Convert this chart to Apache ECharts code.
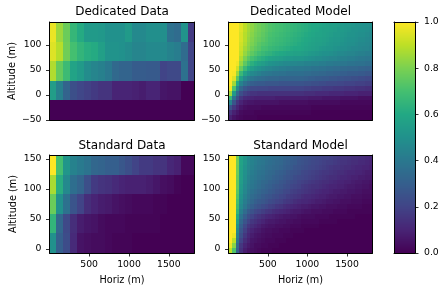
<!DOCTYPE html>
<html><head><meta charset="utf-8"><style>html,body{margin:0;padding:0;background:#fff}#c{width:445px;height:291px}</style>
<script src="https://cdn.jsdelivr.net/npm/echarts@6/dist/echarts.min.js"></script></head><body><div id="c"></div>
<script>
const viridis=['#440154','#482475','#414487','#355f8d','#2a788e','#21918c','#22a884','#44bf70','#7ad151','#bddf26','#fde725'];
const panelTitles=['Dedicated Data','Dedicated Model','Standard Data','Standard Model'];
const horizTicks=[500,1000,1500];
const dedicatedAltTicks=[-50,0,50,100];
const standardAltTicks=[0,50,100,150];
const colorbarTicks=[0,0.2,0.4,0.6,0.8,1];
const horizRange=[3,1822];
const dedicatedRange=[-50,145.6];
const standardRange=[-6.7,156.7];
// rows listed top to bottom
const dedicatedData=[
[.97,.85,.77,.66,.61,.54,.54,.53,.5,.5,.5,.54,.47,.47,.49,.49,.49,.37,.35,.51,.17],
[.95,.89,.78,.7,.65,.62,.61,.56,.51,.51,.5,.48,.45,.45,.47,.47,.47,.44,.42,.35,.2],
[.88,.76,.68,.58,.54,.48,.45,.43,.4,.34,.32,.32,.29,.29,.28,.28,.2,.22,.22,.37,.2],
[.55,.43,.32,.24,.21,.19,.17,.15,.15,.1,.1,.1,.09,.08,.1,.1,.06,.05,.05,0,0],
[0,0,0,0,0,0,0,0,0,0,0,0,0,0,0,0,0,0,0,0,0]];
const standardData=[
[1,.7,.52,.44,.41,.38,.33,.32,.3,.3,.27,.24,.2,.17,.17,.15,.15,.11,.09,.02,.02],
[.87,.62,.47,.36,.32,.24,.17,.15,.14,.12,.1,.09,.09,.09,.08,.06,.04,.03,.01,0,0],
[.77,.5,.37,.26,.2,.13,.1,.08,.07,.05,.04,.03,.02,.02,.02,.01,.01,0,0,0,0],
[.65,.33,.22,.13,.08,.06,.05,.03,.02,.02,.02,.01,.01,.01,.01,.01,0,0,0,0,0],
[.5,.3,.23,.12,.05,.04,.03,.03,.02,.01,.01,.01,0,0,0,0,0,0,0,0,0]];
const dedicatedModel=[
[1,1,1,.95,.9,.86,.83,.8,.78,.76,.74,.72,.71,.7,.69,.68,.67,.66,.65,.64,.63,.62,.61,.6,.6,.59,.58,.57,.56,.56,.55,.54,.53,.53,.52,.51,.51,.5,.5,.49],
[1,1,1,.95,.9,.86,.83,.8,.78,.76,.74,.72,.71,.7,.69,.68,.67,.66,.65,.64,.63,.62,.61,.6,.59,.58,.57,.57,.56,.55,.54,.54,.53,.52,.51,.51,.5,.5,.49,.48],
[1,1,1,.94,.89,.85,.82,.79,.77,.75,.73,.71,.7,.69,.68,.67,.66,.65,.64,.63,.62,.61,.6,.59,.58,.58,.57,.56,.55,.54,.54,.53,.52,.51,.51,.5,.49,.49,.48,.47],
[1,1,1,.94,.89,.84,.81,.78,.76,.74,.72,.7,.69,.68,.67,.66,.65,.64,.63,.62,.61,.6,.59,.58,.57,.57,.56,.55,.54,.53,.53,.52,.51,.5,.5,.49,.48,.48,.47,.46],
[1,1,1,.93,.88,.83,.8,.77,.74,.72,.71,.69,.68,.67,.66,.65,.64,.63,.62,.61,.6,.59,.58,.57,.56,.56,.55,.54,.53,.52,.52,.51,.5,.49,.49,.48,.47,.47,.46,.45],
[1,1,1,.92,.86,.82,.78,.75,.73,.7,.69,.67,.66,.65,.64,.63,.62,.61,.6,.6,.59,.58,.57,.56,.55,.54,.53,.52,.52,.51,.5,.49,.49,.48,.47,.47,.46,.45,.45,.44],
[1,1,1,.91,.84,.79,.75,.72,.69,.67,.65,.64,.62,.61,.6,.59,.58,.58,.57,.57,.56,.55,.54,.53,.52,.51,.5,.5,.49,.48,.47,.47,.46,.45,.45,.44,.43,.43,.42,.42],
[1,1,1,.88,.8,.74,.7,.67,.64,.62,.6,.58,.57,.56,.55,.54,.53,.53,.52,.52,.52,.51,.5,.49,.48,.48,.47,.46,.45,.45,.44,.43,.43,.42,.42,.41,.4,.4,.39,.39],
[1,1,.98,.84,.75,.68,.63,.6,.57,.55,.53,.51,.5,.49,.48,.47,.47,.46,.46,.45,.45,.44,.44,.43,.43,.42,.42,.41,.41,.4,.4,.39,.39,.38,.38,.37,.37,.37,.36,.36],
[1,1,.93,.77,.67,.6,.55,.52,.5,.48,.46,.45,.44,.43,.42,.42,.41,.41,.4,.4,.4,.39,.39,.38,.38,.37,.37,.36,.36,.35,.35,.34,.34,.33,.33,.33,.32,.32,.31,.31],
[1,.99,.85,.67,.57,.51,.47,.45,.43,.41,.4,.39,.38,.38,.37,.37,.36,.36,.36,.36,.36,.35,.35,.34,.34,.33,.33,.32,.32,.31,.31,.3,.3,.29,.29,.29,.28,.28,.27,.27],
[1,.95,.74,.56,.47,.42,.39,.37,.36,.35,.34,.33,.33,.33,.32,.32,.32,.32,.32,.32,.32,.31,.3,.3,.29,.29,.28,.28,.27,.27,.26,.26,.25,.25,.24,.24,.23,.23,.22,.22],
[1,.86,.6,.44,.37,.33,.3,.29,.28,.28,.27,.27,.27,.27,.26,.26,.26,.26,.26,.26,.26,.25,.25,.24,.24,.23,.23,.22,.22,.22,.21,.21,.2,.2,.2,.19,.19,.19,.18,.18],
[.98,.72,.46,.33,.27,.24,.22,.22,.21,.21,.21,.2,.2,.2,.2,.2,.2,.2,.2,.2,.2,.19,.19,.18,.18,.18,.17,.17,.17,.16,.16,.16,.15,.15,.15,.14,.14,.14,.13,.13],
[.86,.54,.34,.24,.19,.17,.15,.15,.14,.14,.14,.14,.14,.14,.14,.14,.14,.14,.14,.14,.14,.13,.13,.13,.12,.12,.12,.12,.11,.11,.11,.11,.1,.1,.1,.1,.09,.09,.09,.09],
[.66,.38,.24,.16,.12,.11,.1,.09,.09,.09,.09,.09,.09,.08,.08,.08,.08,.08,.08,.08,.08,.08,.07,.07,.07,.07,.06,.06,.06,.06,.06,.05,.05,.05,.05,.05,.04,.04,.04,.04],
[.45,.26,.15,.1,.07,.06,.06,.05,.05,.05,.05,.05,.05,.05,.04,.04,.04,.04,.04,.04,.04,.04,.03,.03,.03,.03,.03,.03,.03,.03,.03,.02,.02,.02,.02,.02,.02,.02,.02,.02],
[.25,.16,.1,.06,.04,.03,.03,.03,.03,.02,.02,.02,.02,.02,.02,.02,.02,.02,.02,.02,.02,.02,.02,.01,.01,.01,.01,.01,.01,.01,.01,.01,.01,.01,.01,.01,.01,.01,.01,.01],
[.15,.09,.06,.03,.02,.02,.02,.01,.01,.01,.01,.01,.01,.01,.01,.01,.01,.01,.01,.01,.01,.01,.01,0,0,0,0,0,0,0,0,0,0,0,0,0,0,0,0,0],
[.09,.05,.03,.02,.01,.01,.01,.01,0,0,0,0,0,0,0,0,0,0,0,0,0,0,0,0,0,0,0,0,0,0,0,0,0,0,0,0,0,0,0,0]];
const standardModel=[
[1,1,.78,.58,.52,.47,.44,.42,.41,.39,.38,.37,.36,.35,.34,.32,.31,.3,.29,.27,.26,.25,.24,.23,.22,.21,.2,.2,.19,.18,.17,.16,.16,.15,.14,.14,.13,.13,.12,.11],
[1,1,.78,.58,.52,.47,.44,.42,.4,.39,.37,.36,.35,.34,.33,.31,.3,.29,.28,.26,.25,.24,.23,.22,.21,.2,.19,.18,.18,.17,.16,.15,.15,.14,.13,.13,.12,.12,.11,.1],
[1,1,.77,.57,.51,.46,.43,.41,.39,.38,.36,.35,.34,.33,.32,.3,.29,.28,.26,.25,.24,.23,.22,.21,.2,.19,.18,.17,.16,.15,.15,.14,.13,.13,.12,.11,.11,.1,.1,.09],
[1,1,.77,.56,.5,.45,.42,.4,.38,.37,.35,.34,.33,.31,.3,.29,.27,.26,.25,.24,.22,.21,.2,.19,.18,.17,.16,.16,.15,.14,.13,.13,.12,.11,.11,.1,.1,.09,.08,.08],
[1,1,.76,.56,.49,.44,.41,.39,.37,.36,.34,.33,.31,.3,.29,.27,.26,.25,.23,.22,.21,.2,.19,.18,.17,.16,.15,.14,.13,.13,.12,.11,.11,.1,.09,.09,.08,.08,.07,.07],
[1,1,.75,.55,.48,.43,.4,.38,.36,.34,.33,.31,.3,.29,.27,.26,.24,.23,.22,.2,.19,.18,.17,.16,.15,.14,.13,.13,.12,.11,.1,.1,.09,.09,.08,.07,.07,.06,.06,.05],
[1,1,.75,.54,.47,.42,.39,.37,.35,.33,.31,.3,.28,.27,.26,.24,.23,.21,.2,.19,.17,.16,.15,.14,.14,.13,.12,.11,.1,.1,.09,.09,.08,.07,.07,.06,.06,.05,.05,.04],
[1,1,.74,.53,.46,.41,.37,.35,.33,.31,.3,.28,.27,.25,.24,.22,.21,.19,.18,.17,.16,.15,.14,.13,.12,.11,.1,.1,.09,.08,.08,.07,.07,.06,.06,.05,.05,.04,.04,.04],
[1,1,.72,.51,.44,.39,.35,.33,.31,.29,.27,.26,.24,.23,.21,.2,.18,.17,.16,.15,.13,.12,.12,.11,.1,.09,.09,.08,.07,.07,.06,.06,.05,.05,.04,.04,.04,.03,.03,.03],
[1,1,.7,.49,.42,.37,.33,.3,.28,.27,.25,.23,.22,.2,.19,.17,.16,.15,.13,.12,.11,.11,.1,.09,.08,.08,.07,.06,.06,.05,.05,.04,.04,.04,.03,.03,.03,.02,.02,.02],
[1,1,.68,.47,.4,.34,.3,.27,.25,.23,.21,.19,.18,.16,.15,.13,.12,.11,.1,.09,.08,.08,.07,.06,.06,.05,.05,.04,.04,.04,.03,.03,.03,.02,.02,.02,.02,.01,.01,.01],
[1,1,.65,.43,.35,.29,.25,.22,.2,.18,.16,.15,.13,.12,.11,.1,.09,.08,.07,.07,.06,.05,.05,.04,.04,.04,.03,.03,.03,.02,.02,.02,.02,.01,.01,.01,.01,.01,.01,.01],
[1,1,.6,.38,.3,.24,.2,.17,.15,.13,.11,.1,.09,.08,.07,.06,.06,.05,.05,.04,.03,.03,.03,.03,.02,.02,.02,.02,.01,.01,.01,.01,.01,.01,.01,0,0,0,0,0],
[1,1,.55,.34,.26,.2,.16,.14,.12,.1,.08,.07,.07,.06,.05,.05,.04,.04,.03,.03,.02,.02,.02,.02,.02,.01,.01,.01,.01,.01,0,0,0,0,0,0,0,0,0,0],
[1,1,.5,.3,.22,.16,.13,.11,.09,.07,.06,.05,.05,.04,.04,.03,.03,.02,.02,.02,.01,.01,.01,.01,.01,0,0,0,0,0,0,0,0,0,0,0,0,0,0,0],
[1,1,.46,.27,.19,.13,.1,.08,.07,.05,.04,.04,.03,.03,.02,.02,.02,.01,.01,.01,.01,0,0,0,0,0,0,0,0,0,0,0,0,0,0,0,0,0,0,0],
[1,.97,.42,.24,.16,.11,.08,.06,.05,.04,.03,.03,.02,.02,.02,.01,.01,.01,0,0,0,0,0,0,0,0,0,0,0,0,0,0,0,0,0,0,0,0,0,0],
[1,.9,.38,.2,.13,.09,.06,.05,.04,.03,.02,.02,.02,.01,.01,.01,0,0,0,0,0,0,0,0,0,0,0,0,0,0,0,0,0,0,0,0,0,0,0,0],
[.97,.82,.33,.16,.1,.07,.05,.03,.03,.02,.02,.01,.01,.01,0,0,0,0,0,0,0,0,0,0,0,0,0,0,0,0,0,0,0,0,0,0,0,0,0,0],
[.9,.72,.3,.14,.08,.05,.04,.03,.02,.01,.01,.01,0,0,0,0,0,0,0,0,0,0,0,0,0,0,0,0,0,0,0,0,0,0,0,0,0,0,0,0]];

const font='"DejaVu Sans"';
const ink='#000';
const tickSize=9.3, nameSize=9.7;
const layouts=[
 {left:49.5,top:22,width:145,height:98},
 {left:228.5,top:22,width:144,height:98},
 {left:49.5,top:155,width:145,height:98},
 {left:228.5,top:155,width:144,height:98}];
const titleTops=[6,6,140,140];
const panels=[
 {rows:dedicatedData,yr:dedicatedRange,yt:dedicatedAltTicks,xl:false,yn:'Altitude (m)',gap:32.5},
 {rows:dedicatedModel,yr:dedicatedRange,yt:dedicatedAltTicks,xl:false,yn:'',gap:32},
 {rows:standardData,yr:standardRange,yt:standardAltTicks,xl:true,yn:'Altitude (m)',gap:31},
 {rows:standardModel,yr:standardRange,yt:standardAltTicks,xl:true,yn:'',gap:31}];
const option={animation:false,backgroundColor:'#fff',title:[],grid:[],xAxis:[],yAxis:[],series:[],
 visualMap:{show:false,type:'continuous',min:0,max:1,dimension:2,inRange:{color:viridis},seriesIndex:[0,1,2,3,4]}};
const frame={show:true,onZero:false,lineStyle:{color:ink,width:1}};
function cell(api,x0,y0,x1,y1){
 const a=api.coord([x0,y0]),b=api.coord([x1,y1]);
 const X=Math.round(a[0]),Y=Math.round(a[1]);
 return {type:'rect',shape:{x:X,y:Y,width:Math.round(b[0])-X,height:Math.round(b[1])-Y},style:{fill:api.visual('color')}};
}
function addPanel(p,k){
 option.grid.push(Object.assign({containLabel:false},layouts[k]));
 option.title.push({text:panelTitles[k],left:layouts[k].left+layouts[k].width/2,top:titleTops[k],textAlign:'center',padding:0,
   textStyle:{fontFamily:font,fontSize:12,fontWeight:'normal',color:ink}});
 const base=option.xAxis.length, ybase=option.yAxis.length;
 option.xAxis.push({type:'value',gridIndex:k,min:horizRange[0],max:horizRange[1],position:'bottom',z:5,
   axisLine:frame,splitLine:{show:false},
   axisTick:{show:p.xl,length:3.5,customValues:horizTicks,lineStyle:{color:ink,width:.8}},
   axisLabel:{show:p.xl,customValues:horizTicks,margin:7.5,fontFamily:font,fontSize:tickSize,color:ink,formatter:v=>String(v)},
   name:p.xl?'Horiz (m)':'',nameLocation:'middle',nameGap:22,nameTextStyle:{fontFamily:font,fontSize:nameSize,color:ink}},
  {type:'value',gridIndex:k,min:horizRange[0],max:horizRange[1],position:'top',z:5,axisLine:frame,
   splitLine:{show:false},axisTick:{show:false},axisLabel:{show:false}});
 option.yAxis.push({type:'value',gridIndex:k,min:p.yr[0],max:p.yr[1],position:'left',z:5,
   axisLine:frame,splitLine:{show:false},
   axisTick:{show:true,length:3.5,customValues:p.yt,lineStyle:{color:ink,width:.8}},
   axisLabel:{show:true,customValues:p.yt,margin:8,fontFamily:font,fontSize:tickSize,color:ink,
     formatter:v=>String(v).replace('-','\u2212')},
   name:p.yn,nameLocation:'middle',nameGap:p.gap,nameRotate:90,nameTextStyle:{fontFamily:font,fontSize:nameSize,color:ink}},
  {type:'value',gridIndex:k,min:p.yr[0],max:p.yr[1],position:'right',z:5,axisLine:frame,
   splitLine:{show:false},axisTick:{show:false},axisLabel:{show:false}});
 const nr=p.rows.length,nc=p.rows[0].length;
 const dx=(horizRange[1]-horizRange[0])/nc, dy=(p.yr[1]-p.yr[0])/nr;
 const data=[];
 p.rows.forEach((r,i)=>r.forEach((v,j)=>data.push([horizRange[0]+(j+.5)*dx,p.yr[1]-(i+.5)*dy,v])));
 option.series.push({type:'custom',xAxisIndex:base,yAxisIndex:ybase,data,encode:{x:0,y:1},silent:true,z:2,
  renderItem(params,api){
   const x=api.value(0),y=api.value(1);
   return cell(api,x-dx/2,y+dy/2,x+dx/2,y-dy/2);
  }});
}
panels.forEach(addPanel);
// colour bar
const cbLevels=Array.from({length:231},(_,i)=>(i+.5)/231);
option.grid.push({left:394,top:22,width:21,height:231});
option.xAxis.push({type:'value',gridIndex:4,min:0,max:1,position:'bottom',z:5,axisLine:frame,splitLine:{show:false},axisTick:{show:false},axisLabel:{show:false}},
 {type:'value',gridIndex:4,min:0,max:1,position:'top',z:5,axisLine:frame,splitLine:{show:false},axisTick:{show:false},axisLabel:{show:false}});
option.yAxis.push({type:'value',gridIndex:4,min:0,max:1,position:'right',z:5,axisLine:frame,splitLine:{show:false},
 axisTick:{show:true,length:3.5,customValues:colorbarTicks,lineStyle:{color:ink,width:.8}},
 axisLabel:{show:true,customValues:colorbarTicks,margin:9,fontFamily:font,fontSize:tickSize,color:ink,formatter:v=>v.toFixed(1)}},
 {type:'value',gridIndex:4,min:0,max:1,position:'left',z:5,axisLine:frame,splitLine:{show:false},axisTick:{show:false},axisLabel:{show:false}});
option.series.push({type:'custom',xAxisIndex:option.xAxis.length-2,yAxisIndex:option.yAxis.length-2,
 data:cbLevels.map(v=>[.5,v,v]),encode:{x:0,y:1},silent:true,z:2,
 renderItem(params,api){
  const y=api.value(1),h=.5/231;
  return cell(api,0,y+h,1,y-h);
 }});
echarts.init(document.getElementById('c'),null,{renderer:'canvas'}).setOption(option);
</script></body></html>
